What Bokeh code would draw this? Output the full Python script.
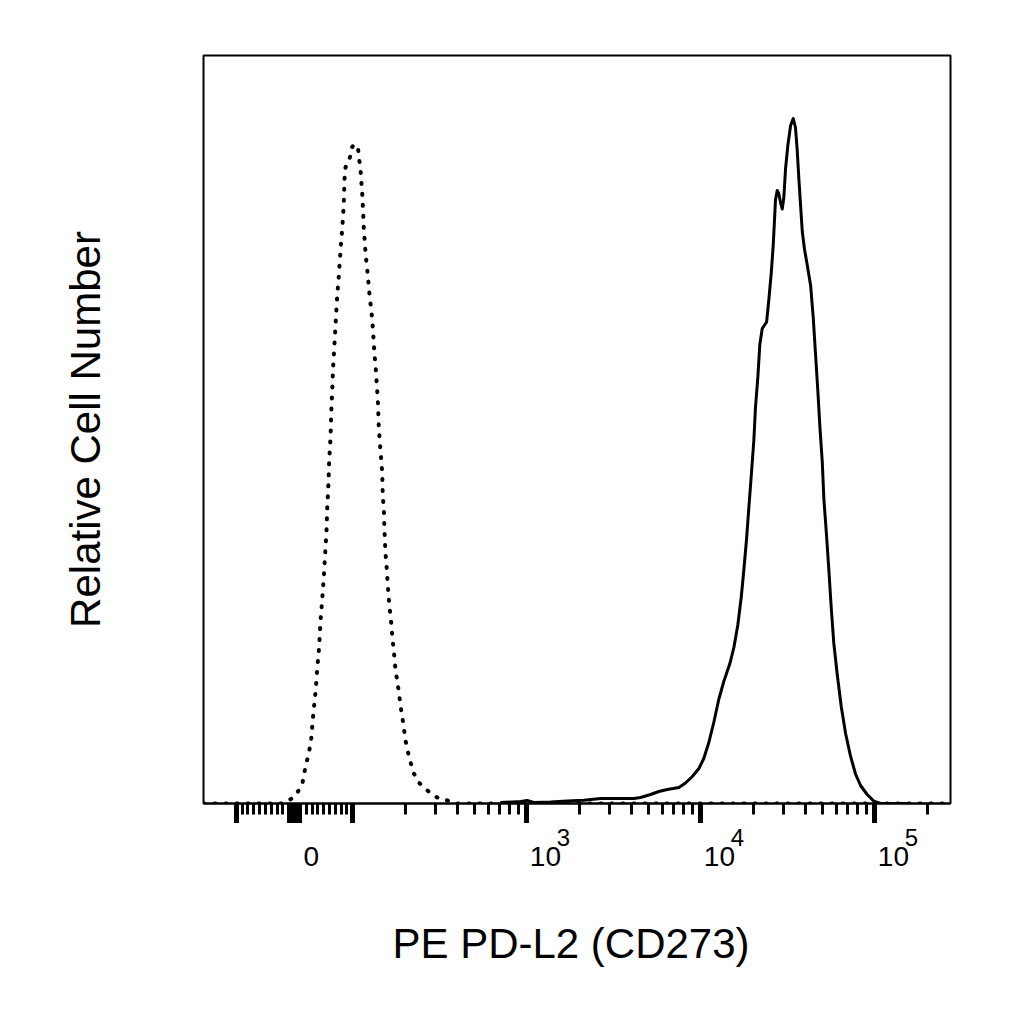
import math
from bokeh.plotting import figure
from bokeh.layouts import column
from bokeh.models import Range1d, FixedTicker, CustomJSTickFormatter
from bokeh.core.properties import value
from bokeh.embed import file_html
from bokeh.resources import INLINE

# x values are positions on the biexponential display scale, in decades
# (10^3 -> 3, 10^4 -> 4, ...); y values are relative cell counts
ctrl_x = [1.142, 1.600, 1.625, 1.671, 1.709, 1.728, 1.747, 1.761, 1.772, 1.786,
          1.795, 1.807, 1.814, 1.824, 1.833, 1.841, 1.849, 1.853, 1.860, 1.864,
          1.872, 1.876, 1.882, 1.887, 1.895, 1.902, 1.910, 1.920, 1.929, 1.939,
          1.948, 1.952, 1.958, 1.983, 1.997, 2.016, 2.029, 2.035, 2.044, 2.048,
          2.054, 2.060, 2.063, 2.073, 2.079, 2.086, 2.092, 2.098, 2.106, 2.112,
          2.117, 2.125, 2.131, 2.136, 2.144, 2.149, 2.153, 2.159, 2.169, 2.172,
          2.178, 2.182, 2.188, 2.194, 2.198, 2.207, 2.213, 2.221, 2.226, 2.232,
          2.240, 2.245, 2.255, 2.264, 2.274, 2.284, 2.293, 2.303, 2.316, 2.332,
          2.351, 2.379, 2.428, 2.485, 2.543, 2.600, 5.435]
ctrl_y = [0, 0, 2, 8, 19, 37, 50, 65, 88, 112,
          134, 158, 182, 204, 226, 250, 274, 296, 320, 342,
          367, 391, 415, 437, 461, 483, 507, 529, 553, 575,
          599, 624, 636, 646, 657, 659, 657, 646, 635, 624,
          610, 588, 575, 551, 540, 529, 516, 505, 494, 483,
          470, 448, 437, 424, 402, 377, 367, 353, 331, 307,
          296, 272, 250, 237, 226, 204, 193, 180, 169, 158,
          145, 134, 123, 112, 98, 87, 76, 63, 52, 41,
          30, 21, 13, 6, 3, 0, 0]

pdl2_x = [2.849, 2.964, 3.002, 3.040, 3.136, 3.232, 3.328, 3.424, 3.615, 3.653,
          3.711, 3.759, 3.807, 3.874, 3.912, 3.951, 3.989, 4.017, 4.046, 4.075,
          4.103, 4.132, 4.167, 4.190, 4.213, 4.232, 4.247, 4.263, 4.276, 4.290,
          4.305, 4.314, 4.328, 4.339, 4.353, 4.378, 4.391, 4.405, 4.416, 4.424,
          4.429, 4.439, 4.448, 4.458, 4.468, 4.477, 4.487, 4.500, 4.516, 4.531,
          4.544, 4.554, 4.563, 4.573, 4.583, 4.596, 4.612, 4.631, 4.646, 4.659,
          4.672, 4.684, 4.698, 4.707, 4.722, 4.736, 4.749, 4.764, 4.784, 4.807,
          4.832, 4.860, 4.889, 4.918, 4.956, 4.994, 5.033, 5.200]
pdl2_y = [1, 2, 3, 1, 1.5, 2.4, 3.3, 5, 5, 6,
          9, 12, 14, 16, 20.5, 27, 35, 45, 61, 81.5,
          104, 122, 140, 156, 179, 206, 233, 265, 296, 328,
          364, 396, 427, 459, 475, 481.5, 504, 531, 558, 585.5,
          603.6, 613, 610, 601, 594.5, 606, 635, 658, 678, 685,
          676, 653, 626, 599, 572, 554, 538, 518, 486, 450,
          414, 377.6, 341.4, 305, 269, 233, 197, 160.6, 129, 97,
          70, 47.6, 29.5, 18, 9, 2.4, 0, 0]

tick_values = [0, 1000, 10000, 100000]
tick_base = ["0", "10", "10", "10"]
tick_exp = ["", "3", "4", "5"]

major_values = [-100, -9, -6, -3, 0, 3, 6, 9, 100, 1000, 10000, 100000]
minor_values = ([v for v in range(-90, 0, 10)] + [v for v in range(10, 100, 10)] +
                [m * 10 ** e for e in (2, 3, 4) for m in range(2, 10)] + [200000])

x_title = "PE PD-L2 (CD273)"
y_title = "Relative Cell Number"

LIN_U0 = 1.665
LIN_K = 0.00335


def biex(v):
    if v >= 100:
        return math.log10(v)
    return LIN_U0 + LIN_K * v


FONT = "Liberation Sans"
X0, X1 = 1.1418, 5.4349

p = figure(frame_width=747, frame_height=748,
           min_border_left=203, min_border_top=55, min_border_right=30,
           min_border_bottom=20,
           x_range=Range1d(X0, X1), y_range=Range1d(0, 748),
           output_backend="svg", toolbar_location=None,
           background_fill_color="white", border_fill_color="white")

p.xgrid.visible = False
p.ygrid.visible = False
p.outline_line_color = "black"
p.outline_line_width = 2

blank = CustomJSTickFormatter(code="return '';")

xa = p.xaxis[0]
xa.ticker = FixedTicker(ticks=[biex(v) for v in major_values],
                        minor_ticks=[biex(v) for v in minor_values])
xa.formatter = blank
xa.major_label_text_font_size = "1px"
xa.axis_line_color = "black"
xa.axis_line_width = 2
xa.major_tick_line_width = 5
xa.major_tick_out = 20
xa.major_tick_in = 0
xa.minor_tick_line_width = 3
xa.minor_tick_out = 11
xa.minor_tick_in = 0
xa.major_label_standoff = 0
xa.axis_label_standoff = 0

ya = p.yaxis[0]
ya.ticker = FixedTicker(ticks=[])
ya.formatter = blank
ya.axis_line_color = None
ya.major_tick_line_color = None
ya.minor_tick_line_color = None
ya.axis_label = y_title
ya.axis_label_text_font = FONT
ya.axis_label_text_font_size = "42px"
ya.axis_label_text_font_style = "normal"
ya.axis_label_text_color = "black"
ya.axis_label_standoff = 95

p.line(ctrl_x, ctrl_y, line_color="black", line_width=4, line_dash="1 10",
       line_cap="round")
p.line(pdl2_x, pdl2_y, line_color="black", line_width=3, line_join="round")

# strip under the plot carrying the tick labels and the x title
s = figure(frame_width=747, frame_height=170,
           min_border_left=203, min_border_right=30, min_border_top=0,
           min_border_bottom=0, x_range=p.x_range, y_range=Range1d(-170, 0),
           x_axis_location=None, y_axis_location=None,
           output_backend="svg", toolbar_location=None,
           background_fill_color="white", border_fill_color="white")
s.xgrid.visible = False
s.ygrid.visible = False
s.outline_line_color = None

s.text(x=[biex(v) for v in tick_values], y=[-33] * len(tick_values),
       text=tick_base, x_offset=[9 if e == "" else 3 for e in tick_exp],
       text_font=value(FONT), text_font_size=value("28px"),
       text_baseline="alphabetic", text_align="left", text_color="black")
exp_pos = [biex(v) for v, e in zip(tick_values, tick_exp) if e]
exp_txt = [e for e in tick_exp if e]
s.text(x=exp_pos, y=[-14] * len(exp_pos), text=exp_txt, x_offset=30,
       text_font=value(FONT), text_font_size=value("24px"),
       text_baseline="alphabetic", text_align="left", text_color="black")
s.text(x=[(X0 + X1) / 2], y=[-120], text=[x_title], x_offset=-6,
       text_font=value(FONT), text_font_size=value("42px"),
       text_baseline="alphabetic", text_align="center", text_color="black")

layout = column(p, s, spacing=0)
open("out.html", "w").write(file_html(layout, INLINE))
